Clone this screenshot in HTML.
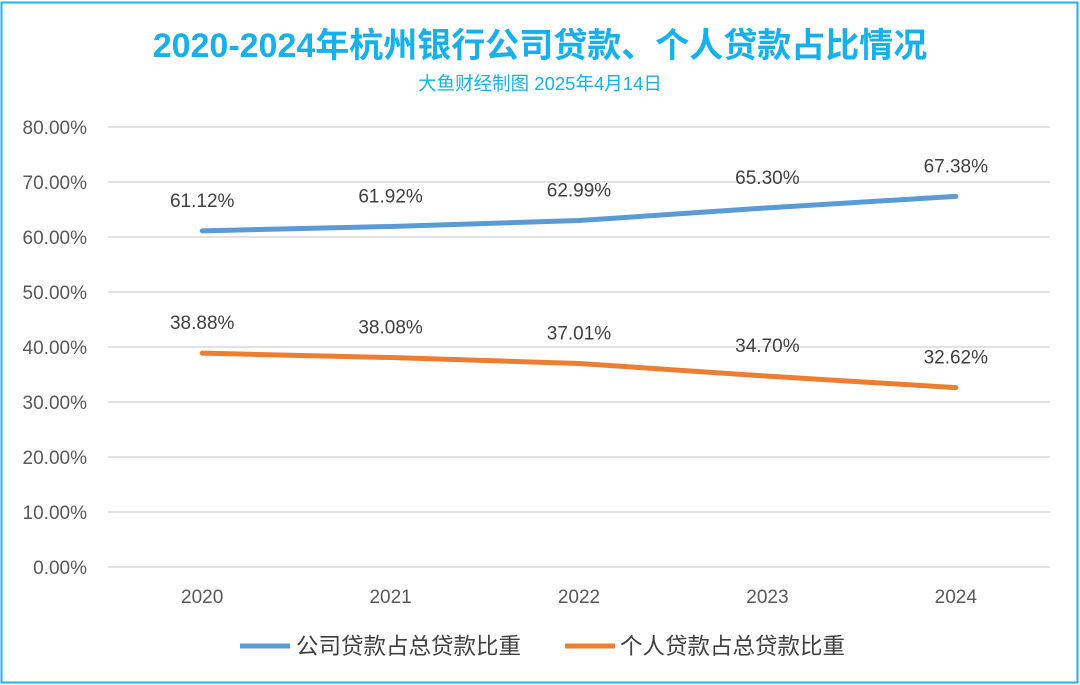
<!DOCTYPE html>
<html><head><meta charset="utf-8"><style>
html,body{margin:0;padding:0;background:#fff;}
body{width:1080px;height:685px;overflow:hidden;}
svg{display:block;font-family:"Liberation Sans","Noto Sans CJK SC",sans-serif;}
</style></head><body>
<svg id="chart" width="1080" height="685">
<rect x="1.5" y="2.5" width="1076" height="680" fill="#fff" stroke="#1fb2ee" stroke-width="2"/>
<text x="540" y="57" text-anchor="middle" font-size="34" font-weight="bold" fill="#16b0ea">2020-2024年杭州银行公司贷款、个人贷款占比情况</text>
<text x="540" y="90" text-anchor="middle" font-size="18.5" fill="#16b0ea">大鱼财经制图 2025年4月14日</text>
<g id="grid"></g><g id="yticks"></g><g id="xticks"></g><g id="series"></g>
<g>
<line x1="240" y1="646" x2="290" y2="646" stroke="#5b9bd5" stroke-width="5"/>
<text x="296" y="654" font-size="22.5" fill="#404040">公司贷款占总贷款比重</text>
<line x1="565" y1="646" x2="615" y2="646" stroke="#ed7d31" stroke-width="5"/>
<text x="620" y="654" font-size="22.5" fill="#404040">个人贷款占总贷款比重</text>
</g>
</svg>
<script>
const categories = ["2020","2021","2022","2023","2024"];
const corporate = [61.12, 61.92, 62.99, 65.30, 67.38];
const personal = [38.88, 38.08, 37.01, 34.70, 32.62];
const yTicks = [0,10,20,30,40,50,60,70,80];
const NS="http://www.w3.org/2000/svg";
const L=108,R=1050,T=127,B=567,yMax=80;
const y=v=>B-(v/yMax)*(B-T);
const bw=(R-L)/categories.length;
const x=i=>L+bw*(i+0.5);
function mk(tag,attrs,parent,txt){const e=document.createElementNS(NS,tag);for(const k in attrs)e.setAttribute(k,attrs[k]);if(txt!==undefined)e.textContent=txt;parent.appendChild(e);return e;}
const grid=document.getElementById('grid'),yt=document.getElementById('yticks'),xt=document.getElementById('xticks'),ser=document.getElementById('series');
yTicks.forEach(v=>{
 const g=mk('line',{x1:L,x2:R,y1:y(v),y2:y(v),stroke:'#d9d9d9','stroke-width':1.5},grid);
 
 
 const t=mk('text',{x:87,y:y(v)+7,'text-anchor':'end','font-size':19,fill:'#595959'},yt,v.toFixed(2)+'%');
 
 
});
categories.forEach((c,i)=>{
 const t=mk('text',{x:x(i),y:603,'text-anchor':'middle','font-size':19,fill:'#595959'},xt,c);
 
 
});
function drawSeries(vals,color,name){
 const p=mk('polyline',{points:vals.map((v,i)=>x(i)+','+y(v)).join(' '),fill:'none',stroke:color,'stroke-width':5,'stroke-linejoin':'round','stroke-linecap':'round'},ser);
 
 
 vals.forEach((v,i)=>{
  const t=mk('text',{x:x(i),y:y(v)-24,'text-anchor':'middle','font-size':19,fill:'#404040'},ser,v.toFixed(2)+'%');
  
  
 });
}
drawSeries(corporate,'#5b9bd5','corporate');
drawSeries(personal,'#ed7d31','personal');
</script>
</body></html>
